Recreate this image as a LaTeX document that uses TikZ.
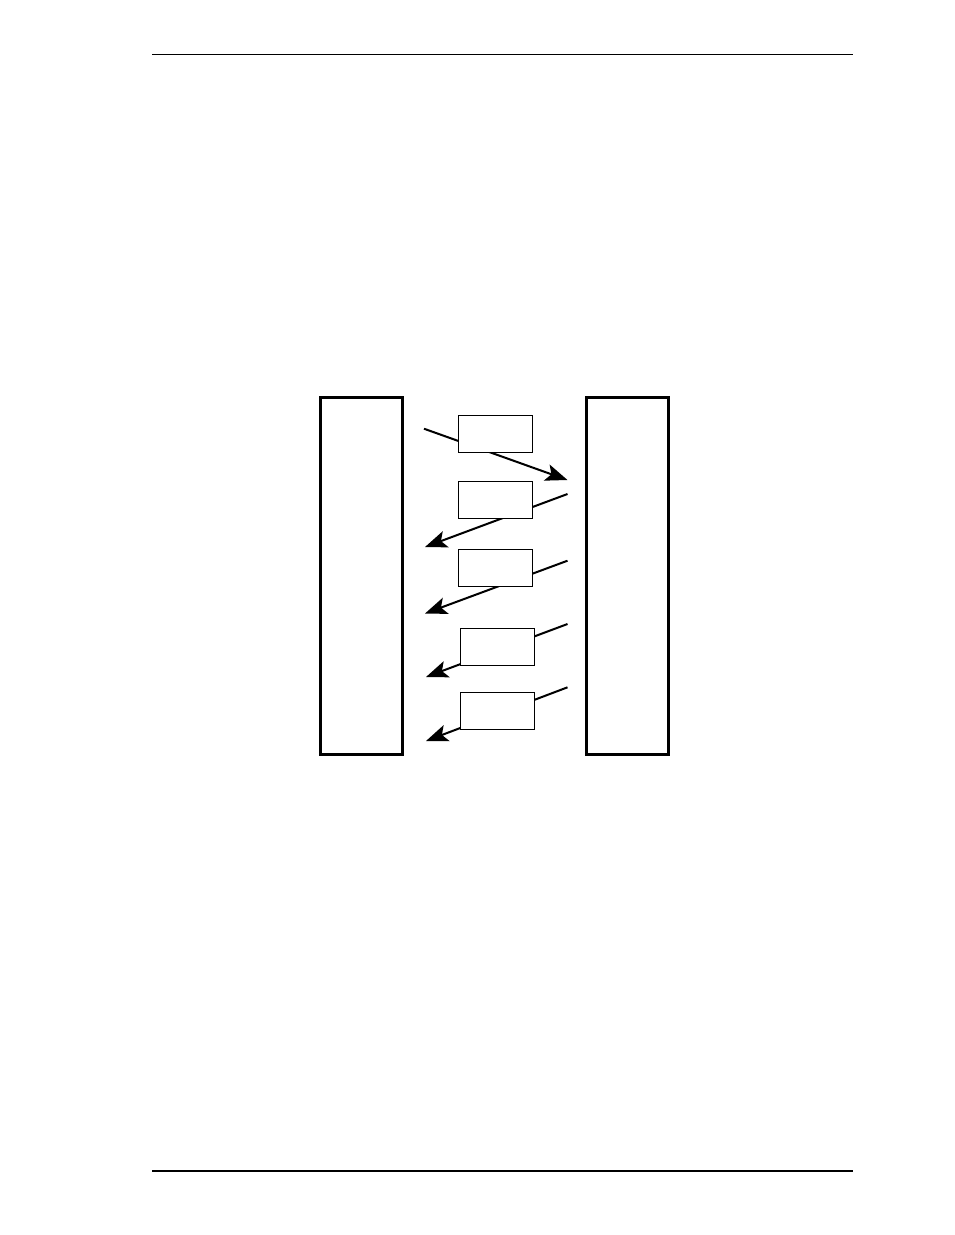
\documentclass[tikz,border=0pt]{standalone}
\usetikzlibrary{arrows.meta}

\begin{document}
\begin{tikzpicture}[x=1pt, y=-1pt,
  side/.style={draw, line width=3pt, minimum width=82pt, minimum height=357pt, inner sep=0pt},
  packet/.style={draw, fill=white, line width=1pt, minimum width=74pt, minimum height=37pt, inner sep=0pt},
  msg/.style={line width=2pt, -{Stealth[length=22pt, width=17pt, inset=5pt]}}]
\useasboundingbox (0,0) rectangle (954,1235);
\draw [line width=1pt] (152,54.3) -- (853,54.3);
\draw [line width=2pt] (152,1171) -- (853,1171);
% end points of the messages
\coordinate (a1) at (424,428.7);  \coordinate (b1) at (567.5,480);
\coordinate (a2) at (567.5,494);  \coordinate (b2) at (425,547);
\coordinate (a3) at (567.5,560.7); \coordinate (b3) at (425,613.5);
\coordinate (a4) at (567.5,624);  \coordinate (b4) at (426,677);
\coordinate (a5) at (567.5,687.3); \coordinate (b5) at (426,741);
\foreach \i in {1,...,5}
  \draw [msg] (a\i) -- (b\i);
\node [side] (left) at (361.3,575.8) {};
\node [side] (right) at (627.7,575.8) {};
\node [packet] (p1) at (495,434.3) {};
\node [packet] (p2) at (495,500.3) {};
\node [packet] (p3) at (495,567.5) {};
\node [packet] (p4) at (497,647.3) {};
\node [packet] (p5) at (497,711.3) {};
\end{tikzpicture}
\end{document}
